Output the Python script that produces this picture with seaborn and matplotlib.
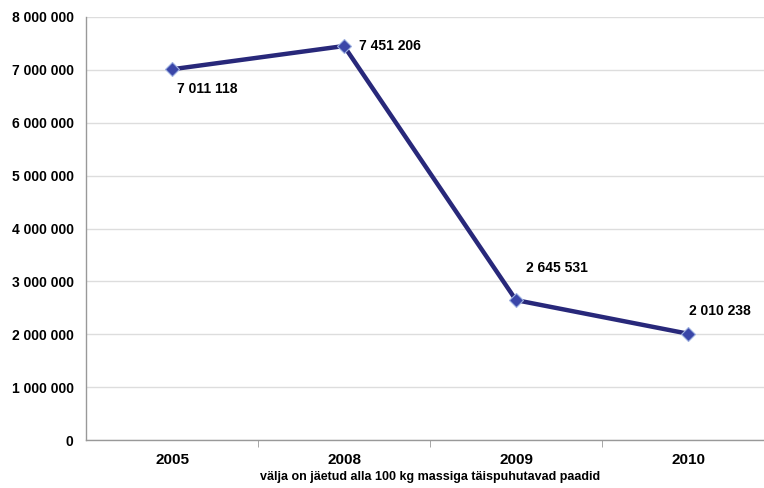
import pandas as pd
import matplotlib.pyplot as plt
import matplotlib.ticker as mticker
import seaborn as sns

# data
years = ["2005", "2008", "2009", "2010"]
values = [7011118, 7451206, 2645531, 2010238]
label_offsets = [(3.6, -14.4), (11, 0), (7, 23), (0.7, 16)]  # points, for value labels
x_caption = "välja on jäetud alla 100 kg massiga täispuhutavad paadid"

df = pd.DataFrame({"year": years, "value": values})

sns.set_style("white")
plt.rcParams["font.family"] = ["Liberation Sans", "DejaVu Sans"]
plt.rcParams["font.weight"] = "bold"
plt.rcParams["text.color"] = "black"
plt.rcParams["xtick.color"] = "black"
plt.rcParams["ytick.color"] = "black"
plt.rcParams["axes.labelcolor"] = "black"

fig = plt.figure(figsize=(7.64, 4.88), dpi=100)
ax = fig.add_axes([86 / 764, 48 / 488, 688 / 764, 423 / 488])

sns.lineplot(data=df, x="year", y="value", ax=ax, color="#28287A", linewidth=3.2,
             marker="D", markersize=7, markerfacecolor="#3A46A8",
             markeredgecolor="#9DB0E0", markeredgewidth=0.8, sort=False)

def fmt(v):
    return f"{int(v):,}".replace(",", " ")

for i, (v, off) in enumerate(zip(values, label_offsets)):
    ax.annotate(fmt(v), (i, v), xytext=off, textcoords="offset points",
                ha="left", va="center", fontsize=10, fontweight="bold")

ax.set_xlim(-0.5, 3.5)
ax.set_ylim(0, 8000000)
ax.yaxis.set_major_locator(mticker.MultipleLocator(1000000))
ax.yaxis.set_major_formatter(mticker.FuncFormatter(lambda v, p: fmt(v)))
ax.grid(axis="y", color="#DDDDDD", linewidth=1)
ax.set_axisbelow(True)

# category tick marks between the groups
ax.set_xticks(range(len(years)))
ax.set_xticklabels(years)
ax.set_xticks([0.5, 1.5, 2.5], minor=True)
ax.tick_params(axis="x", which="major", length=0, pad=9, labelsize=11)
ax.tick_params(axis="x", which="minor", length=5, color="#999999", direction="out")
ax.tick_params(axis="y", length=5, color="#999999", direction="out", labelsize=10, pad=4)
ax.xaxis.set_tick_params(bottom=True, which="minor")

for s in ["top", "right"]:
    ax.spines[s].set_visible(False)
for s in ["left", "bottom"]:
    ax.spines[s].set_color("#999999")
    ax.spines[s].set_linewidth(1)

ax.set_xlabel(x_caption, fontsize=9, fontweight="bold", labelpad=3)
ax.set_ylabel("")

fig.savefig("out.png", dpi=100)
